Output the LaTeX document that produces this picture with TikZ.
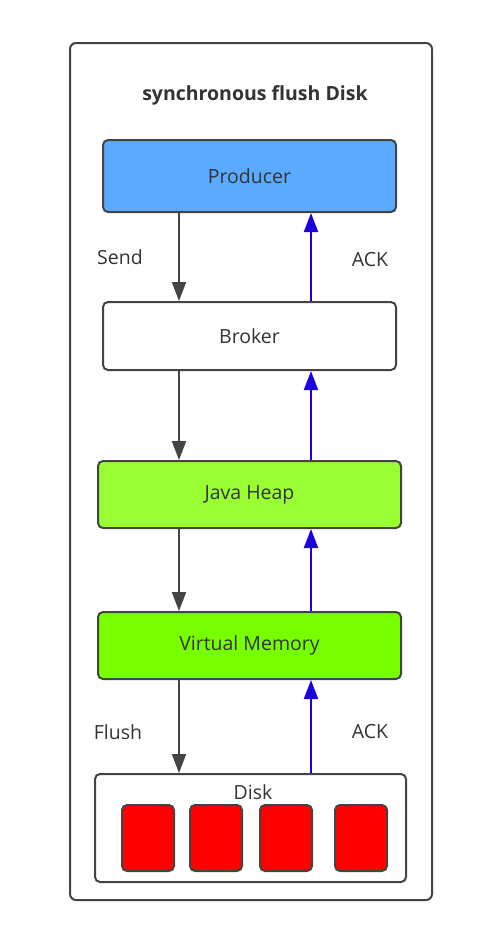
\documentclass[tikz,border=0pt]{standalone}
\usepackage{fontspec}
\setmainfont{Open Sans}
\usetikzlibrary{arrows.meta}
\definecolor{txt}{HTML}{333333}
\definecolor{edge}{HTML}{444444}
\definecolor{prodblue}{HTML}{5AAAFF}
\definecolor{heapgreen}{HTML}{99FF33}
\definecolor{vmgreen}{HTML}{77FF00}
\definecolor{diskred}{HTML}{FF0000}
\definecolor{ackblue}{HTML}{1A00E0}
\begin{document}
\begin{tikzpicture}[x=1pt,y=-1pt,
  box/.style={draw=edge,line width=2pt,rounded corners=5pt,text=txt,font=\fontsize{19.5}{22}\selectfont},
  cell/.style={draw=edge,line width=2pt,rounded corners=5pt,fill=diskred,minimum width=52pt,minimum height=66pt,inner sep=0pt},
  down/.style={draw=edge,line width=2pt,-{Triangle[length=19pt,width=14pt]}},
  up/.style={draw=ackblue,line width=2pt,-{Triangle[length=19pt,width=14pt]}},
  lbl/.style={text=txt,font=\fontsize{19.5}{22}\selectfont}]
\useasboundingbox (0,0) rectangle (497,932);
\fill[white] (0,0) rectangle (497,932);
\draw[edge,line width=2pt,rounded corners=6pt] (70,43) rectangle (432,900);
\node[text=txt,font=\bfseries\fontsize{19.5}{22}\selectfont] (title) at (255,95) {synchronous flush Disk};
\node[box,fill=prodblue,minimum width=293pt,minimum height=72pt] (prod) at (249.5,176) {Producer};
\node[box,fill=white,minimum width=293pt,minimum height=68pt] (broker) at (249.5,336) {Broker};
\node[box,fill=heapgreen,minimum width=303pt,minimum height=67pt] (heap) at (249.5,494.5) {Java Heap};
\node[box,fill=vmgreen,minimum width=303pt,minimum height=67pt] (vm) at (249.5,645.5) {Virtual Memory};
\node[box,fill=white,minimum width=311pt,minimum height=108pt] (disk) at (250.5,828) {};
\node[lbl] (disklbl) at (253,792) {Disk};
\node[cell] (c1) at (148,838) {};
\node[cell] (c2) at (216,838) {};
\node[cell] (c3) at (286,838) {};
\node[cell] (c4) at (361,838) {};
\draw[down] (prod.south -| 179,0) -- (broker.north -| 179,0);
\draw[down] (broker.south -| 179,0) -- (heap.north -| 179,0);
\draw[down] (heap.south -| 179,0) -- (vm.north -| 179,0);
\draw[down] (vm.south -| 179,0) -- (disk.north -| 179,0);
\draw[up] (broker.north -| 311,0) -- (prod.south -| 311,0);
\draw[up] (heap.north -| 311,0) -- (broker.south -| 311,0);
\draw[up] (vm.north -| 311,0) -- (heap.south -| 311,0);
\draw[up] (disk.north -| 311,0) -- (vm.south -| 311,0);
\node[lbl] (send) at (120,257) {Send};
\node[lbl] (ack1) at (370,260) {ACK};
\node[lbl] (flush) at (118,732) {Flush};
\node[lbl] (ack2) at (370,732) {ACK};
\end{tikzpicture}
\end{document}
